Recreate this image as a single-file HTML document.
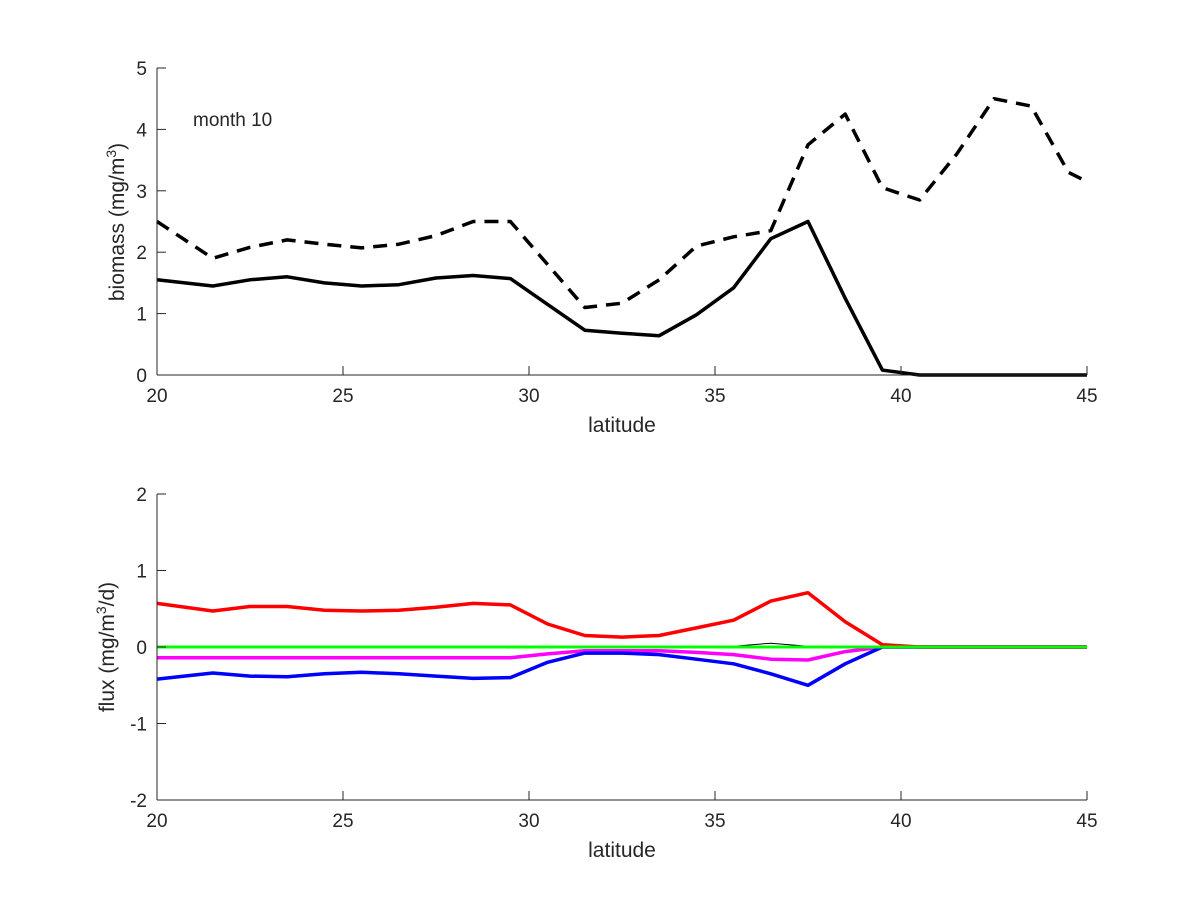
<!DOCTYPE html>
<html><head><meta charset="utf-8"><style>body{margin:0;background:#fff}svg text{font-family:"Liberation Sans",sans-serif;fill:#262626}</style></head>
<body>
<svg id="s" width="1200" height="900" xmlns="http://www.w3.org/2000/svg"></svg>
<script>
const s=document.getElementById('s');let h='';
const X=l=>157+(l-20)*37.2;
const lats=[20,21.5,22.5,23.5,24.5,25.5,26.5,27.5,28.5,29.5,30.5,31.5,32.5,33.5,34.5,35.5,36.5,37.5,38.5,39.5,40.5,41.5,42.5,43.5,44.5,45];
const Y1=v=>375-v*61.4, Y2=v=>647-v*76.5;
function line(vals,Y,style){let p=vals.map((v,i)=>X(lats[i]).toFixed(1)+','+Y(v).toFixed(1)).join(' ');h+=`<polyline points="${p}" fill="none" ${style} stroke-linejoin="round"/>`;}
function axes(y0,y1,ticksY,Yf){
 h+=`<line x1="157" y1="${y0}" x2="157" y2="${y1}" stroke="#262626"/><line x1="157" y1="${y1}" x2="1087" y2="${y1}" stroke="#262626"/>`;
 for(let l=20;l<=45;l+=5){let x=X(l);h+=`<line x1="${x}" y1="${y1}" x2="${x}" y2="${y1-9}" stroke="#262626"/><text x="${x}" y="${y1+27}" font-size="19" text-anchor="middle">${l}</text>`;}
 ticksY.forEach(v=>{let y=Yf(v);h+=`<line x1="157" y1="${y}" x2="166" y2="${y}" stroke="#262626"/><text x="147" y="${y+7}" font-size="19" text-anchor="end">${v}</text>`;});
 h+=`<text x="622" y="${y1+57}" font-size="21" text-anchor="middle">latitude</text>`;
}
line([1.55,1.45,1.55,1.6,1.5,1.45,1.47,1.58,1.62,1.57,1.15,0.73,0.68,0.64,0.98,1.42,2.22,2.5,1.25,0.08,0,0,0,0,0,0],Y1,'stroke="#000" stroke-width="3.5"');
line([2.5,1.9,2.08,2.2,2.13,2.07,2.13,2.27,2.5,2.5,1.8,1.1,1.17,1.55,2.1,2.25,2.35,3.75,4.25,3.05,2.85,3.6,4.5,4.38,3.3,3.15],Y1,'stroke="#000" stroke-width="3.5" stroke-dasharray="14,9"');
axes(68,375,[0,1,2,3,4,5],Y1);
h+=`<text x="193" y="126" font-size="19">month 10</text>`;
h+=`<text transform="translate(124,222) rotate(-90)" font-size="21" text-anchor="middle">biomass (mg/m<tspan dy="-8" font-size="14">3</tspan><tspan dy="8">)</tspan></text>`;
const z=Array(26).fill(0);
line([0,0,0,0,0,0,0,0,0,0,0,0,0,0,0,0.01,0.05,0.01,0,0,0,0,0,0,0,0],Y2,'stroke="#000" stroke-width="1"');
line([-0.14,-0.14,-0.14,-0.14,-0.14,-0.14,-0.14,-0.14,-0.14,-0.14,-0.09,-0.05,-0.05,-0.05,-0.07,-0.1,-0.16,-0.17,-0.06,0,0,0,0,0,0,0],Y2,'stroke="#ff00ff" stroke-width="3.5"');
line([-0.42,-0.34,-0.38,-0.39,-0.35,-0.33,-0.35,-0.38,-0.41,-0.4,-0.2,-0.08,-0.08,-0.1,-0.16,-0.22,-0.35,-0.5,-0.22,0,0,0,0,0,0,0],Y2,'stroke="#0000ff" stroke-width="3.5"');
line([0.57,0.47,0.53,0.53,0.48,0.47,0.48,0.52,0.57,0.55,0.3,0.15,0.13,0.15,0.25,0.35,0.6,0.71,0.33,0.03,0,0,0,0,0,0],Y2,'stroke="#ff0000" stroke-width="3.5"');
line(z,Y2,'stroke="#00ff00" stroke-width="3"');
axes(494,800,[-2,-1,0,1,2],Y2);
h+=`<text transform="translate(114,647) rotate(-90)" font-size="21" text-anchor="middle">flux (mg/m<tspan dy="-8" font-size="14">3</tspan><tspan dy="8">/d)</tspan></text>`;
s.innerHTML=h;
</script>
</body></html>
